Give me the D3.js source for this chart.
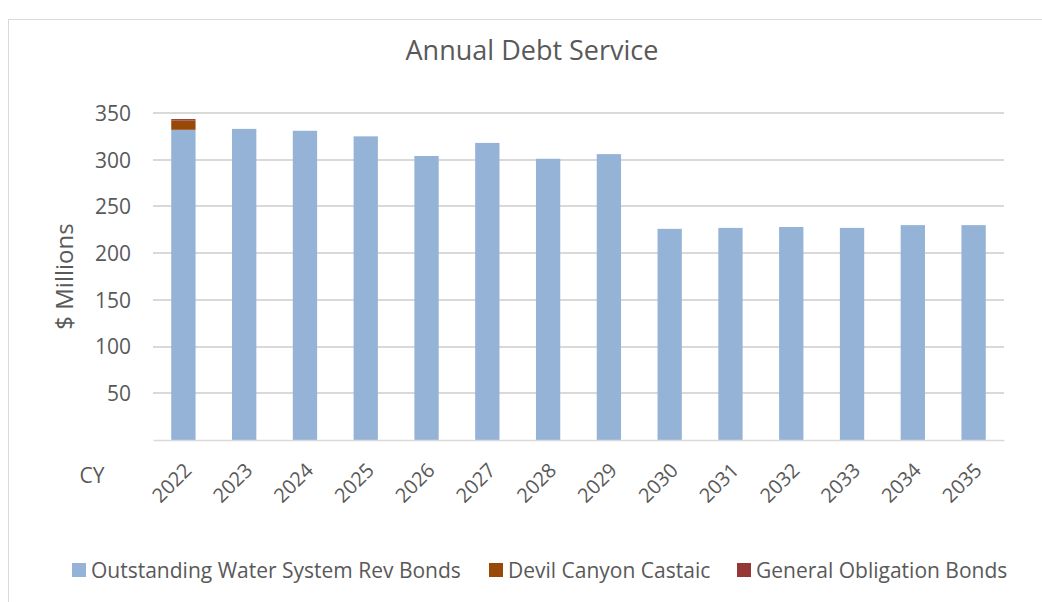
<!DOCTYPE html>
<html lang="en">
<head>
<meta charset="UTF-8">
<title>Annual Debt Service</title>
<script src="https://cdn.jsdelivr.net/npm/d3@7"></script>
<style>
    body { margin: 0; background: #fff; }
    text { font-family: 'Open Sans', sans-serif; fill: #595959; }
    .grid line { stroke: #d9d9d9; stroke-width: 1.5; shape-rendering: crispEdges; }
</style>
</head>
<body>
<svg id="chart" width="1042" height="602"></svg>
<script>
    // chart data
    var years = ["2022", "2023", "2024", "2025", "2026", "2027", "2028",
                 "2029", "2030", "2031", "2032", "2033", "2034", "2035"];
    var waterRevBonds = [332, 333, 331, 325, 304, 318, 301, 306, 226, 227, 228, 227, 230, 230];
    var devilCanyon   = [10, 0, 0, 0, 0, 0, 0, 0, 0, 0, 0, 0, 0, 0];
    var generalOblig  = [1.5, 0, 0, 0, 0, 0, 0, 0, 0, 0, 0, 0, 0, 0];
    var yTicks = [50, 100, 150, 200, 250, 300, 350];

    var seriesNames = ["Outstanding Water System Rev Bonds", "Devil Canyon Castaic", "General Obligation Bonds"];
    var seriesColors = ["#95b3d7", "#984807", "#953735"];

    var svg = d3.select("#chart"),
        WIDTH = 1042,
        HEIGHT = 602,
        MARGINS = { top: 113, right: 38, bottom: 162, left: 153 };

    // outer chart border
    svg.append("rect")
        .attr("x", 8.5).attr("y", 19.5)
        .attr("width", 1100).attr("height", 700)
        .attr("fill", "none")
        .attr("stroke", "#d9d9d9")
        .attr("stroke-width", 1);

    var table = years.map(function (y, i) {
        return { year: y, s0: waterRevBonds[i], s1: devilCanyon[i], s2: generalOblig[i] };
    });
    var stacked = d3.stack().keys(["s0", "s1", "s2"])(table);

    var x = d3.scaleBand()
        .domain(years)
        .range([MARGINS.left, WIDTH - MARGINS.right])
        .paddingInner(0.6)
        .paddingOuter(0.3);

    var y = d3.scaleLinear()
        .domain([0, 350])
        .range([HEIGHT - MARGINS.bottom, MARGINS.top]);

    // gridlines
    svg.append("g")
        .attr("class", "grid")
        .selectAll("line")
        .data(yTicks)
        .enter().append("line")
        .attr("x1", MARGINS.left)
        .attr("x2", WIDTH - MARGINS.right)
        .attr("y1", function (d) { return Math.round(y(d)); })
        .attr("y2", function (d) { return Math.round(y(d)); });

    // y axis labels
    var yAxis = d3.axisLeft(y).tickValues(yTicks).tickSize(0).tickPadding(22);
    var gy = svg.append("g")
        .attr("transform", "translate(" + MARGINS.left + ",0)")
        .call(yAxis);
    gy.select(".domain").remove();
    gy.selectAll("text")
        .style("font-size", "21px")
        .attr("dy", "0.35em");

    // bars
    svg.append("g")
        .selectAll("g")
        .data(stacked)
        .enter().append("g")
        .attr("fill", function (d, i) { return seriesColors[i]; })
        .selectAll("rect")
        .data(function (d) { return d; })
        .enter().append("rect")
        .attr("x", function (d) { return x(d.data.year); })
        .attr("width", x.bandwidth())
        .attr("y", function (d) { return y(d[1]); })
        .attr("height", function (d) { return y(d[0]) - y(d[1]); });

    // x axis
    var xAxis = d3.axisBottom(x).tickSize(0).tickPadding(12);
    var gx = svg.append("g")
        .attr("transform", "translate(0," + y(0) + ")")
        .call(xAxis);
    gx.select(".domain")
        .attr("stroke", "#d9d9d9")
        .attr("stroke-width", 1.5);
    gx.selectAll("text")
        .style("font-size", "20px")
        .attr("text-anchor", "end")
        .attr("dy", "0.5em")
        .attr("transform", "translate(-6,16) rotate(-45)");

    svg.append("text")
        .attr("x", 92)
        .attr("y", 483)
        .attr("text-anchor", "middle")
        .style("font-size", "21px")
        .text("CY");

    // y axis title
    svg.append("text")
        .attr("transform", "translate(73," + ((MARGINS.top + y(0)) / 2) + ") rotate(-90)")
        .attr("text-anchor", "middle")
        .style("font-size", "24px")
        .text("$ Millions");

    // title
    svg.append("text")
        .attr("x", 532)
        .attr("y", 60)
        .attr("text-anchor", "middle")
        .style("font-size", "27px")
        .text("Annual Debt Service");

    // legend
    var legendX = [72, 489, 737];
    var legend = svg.append("g")
        .selectAll("g")
        .data(seriesNames)
        .enter().append("g")
        .attr("transform", function (d, i) { return "translate(" + legendX[i] + ",563)"; });
    legend.append("rect")
        .attr("width", 14).attr("height", 14)
        .attr("fill", function (d, i) { return seriesColors[i]; });
    legend.append("text")
        .attr("x", 19)
        .attr("y", 15)
        .style("font-size", "21px")
        .text(function (d) { return d; });
</script>
</body>
</html>
